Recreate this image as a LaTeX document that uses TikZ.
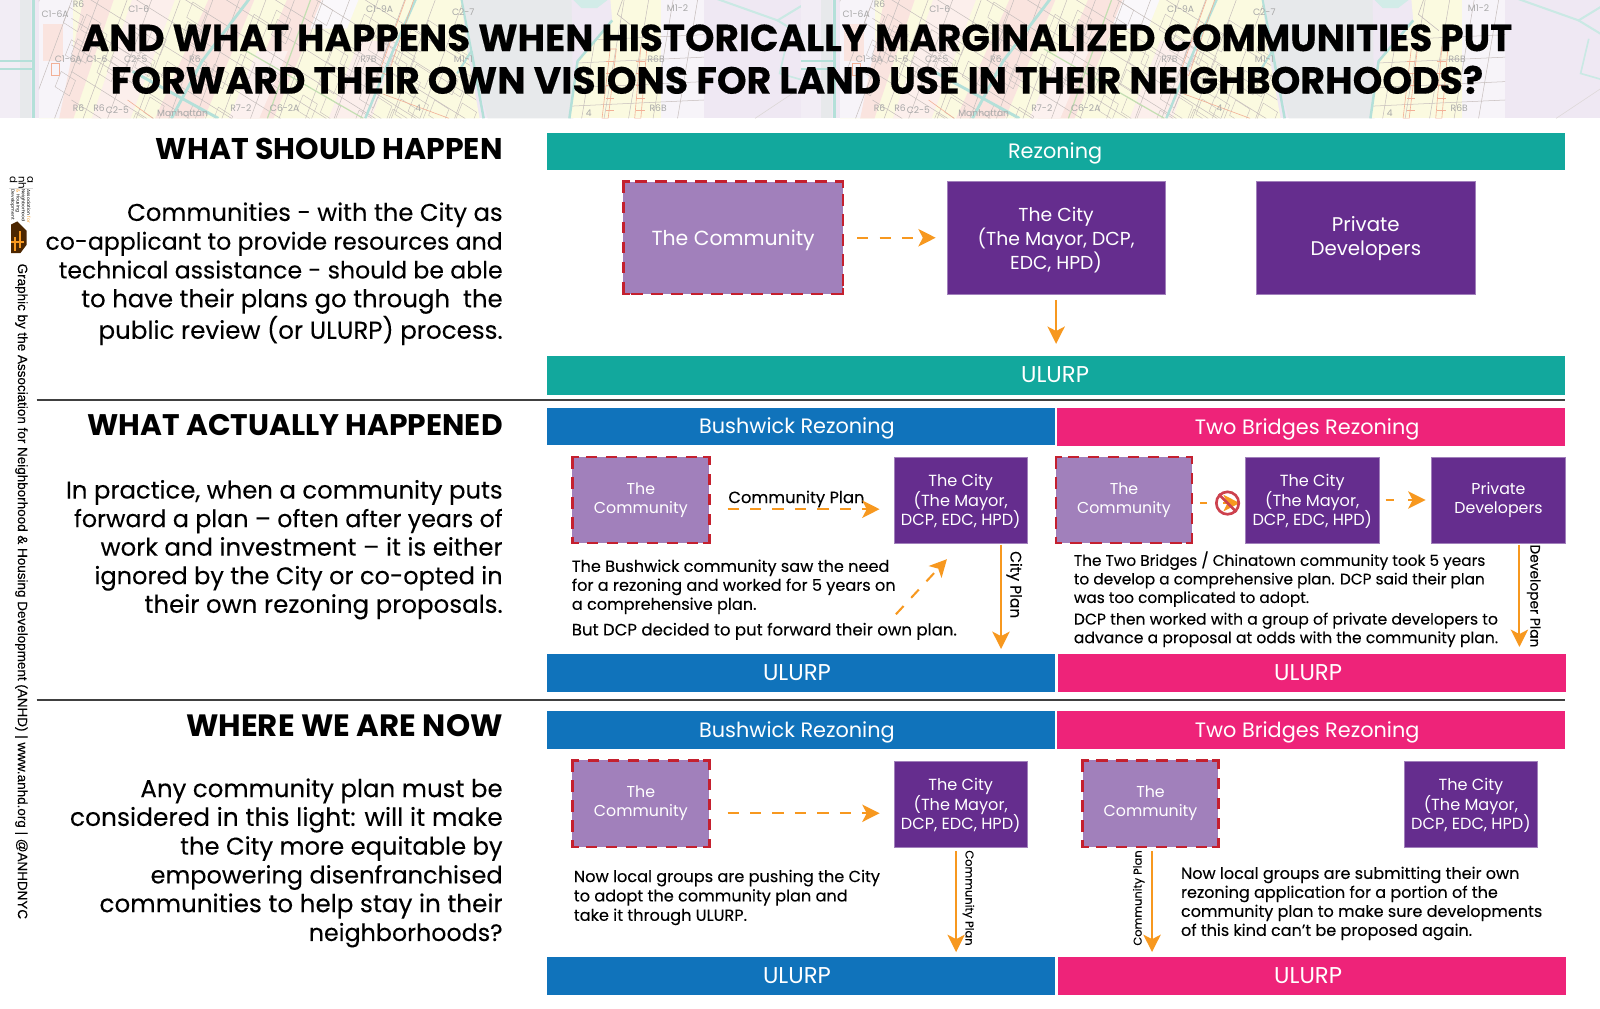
\documentclass[tikz,border=0pt]{standalone}
\usepackage{fontspec}
\usepackage{graphicx}
\setmainfont{Poppins}
\newfontfamily\medf[FakeBold=0.12]{Poppins}
\newfontfamily\titlef[BoldFeatures={FakeBold=0.3}]{Poppins}
\newfontfamily\sidef[FakeBold=0.1]{Liberation Sans}
\usetikzlibrary{arrows.meta,shapes.geometric,calc}
\definecolor{cteal}{HTML}{12A89D}
\definecolor{cblue}{HTML}{1073BB}
\definecolor{cpink}{HTML}{EE2379}
\definecolor{cpurple}{HTML}{652D8E}
\definecolor{clight}{HTML}{A180BB}
\definecolor{cred}{HTML}{C4202F}
\definecolor{corange}{HTML}{F7981F}
\definecolor{myel}{HTML}{FBFAE0}
\definecolor{mpink}{HTML}{FAE4DF}
\definecolor{mlav}{HTML}{EFE8F3}
\definecolor{mgrey}{HTML}{E7E9EB}
\definecolor{mteal}{HTML}{B4E0D9}
\definecolor{mgreen}{HTML}{C4DFB2}
\definecolor{mline}{HTML}{C6BEBC}
\definecolor{morange}{HTML}{F2B096}
\definecolor{mtext}{HTML}{A8A8A8}
% set a line to a width given in picture units
\newdimen\fwdim
\newcommand\fw[2]{\fwdim=#1pt \fwdim=0.5\fwdim \resizebox{\fwdim}{!}{#2}}
\tikzset{
  sz/.style 2 args={minimum width=#1*0.5pt,minimum height=#2*0.5pt,inner sep=0pt,outer sep=0pt},
  bar/.style={text=white,font=\fontsize{10.2}{12}\selectfont,anchor=center,text height=7pt,text depth=0pt},
  ulurpbar/.style={bar,font=\fontsize{11.2}{12}\selectfont},
  bigbox/.style={text=white,align=center,inner sep=0pt,font=\fontsize{9.2}{11.8}\selectfont},
  bigcomm/.style={text=white,align=center,inner sep=0pt,font=\fontsize{10}{11.8}\selectfont},
  bigpriv/.style={text=white,align=center,inner sep=0pt,font=\fontsize{9.7}{11.8}\selectfont},
  smallbox/.style={text=white,align=center,inner sep=0pt,font=\fontsize{7.9}{9.6}\selectfont},
  smallcomm/.style={text=white,align=center,inner sep=0pt,font=\fontsize{7.75}{9.3}\selectfont},
  city/.style={fill=cpurple,draw=clight,line width=.3pt},
  comm/.style={fill=clight},
  redborder/.style={draw=cred,line width=1.3pt,dash pattern=on 5.6pt off 4.2pt},
  redcorner/.style={draw=cred,line width=1.3pt},
  heading/.style={anchor=east,inner sep=0pt,font=\fontsize{14.6}{16}\bfseries\selectfont},
  para/.style={anchor=north east,inner sep=0pt,align=right},
  note/.style={anchor=north west,inner sep=0pt,align=left,font=\fontsize{7.9}{9.3}\medf\selectfont},
  solidarrow/.style={draw=corange,line width=1pt,-{Stealth[length=8.5pt,width=8.5pt,inset=2.2pt]}},
  dasharrow/.style={draw=corange,line width=1pt,dash pattern=on 5.5pt off 5.5pt,-{Stealth[length=8.5pt,width=8.5pt,inset=2.2pt]}},
  rulel/.style={draw=black!75,line width=.5pt},
  mlabel/.style={text=mtext,inner sep=0pt,font=\fontsize{4.5}{5}\selectfont},
}
% community box: name, x, y, w, h, text-dy, text, text style
\newcommand\commbox[8]{%
  \node[comm,sz={#4}{#5}] (#1) at (#2,#3) {};
  \draw[redborder] (#1.north west) rectangle (#1.south east);
  \draw[redcorner] ([yshift=-3pt]#1.north west) -- (#1.north west) -- ([xshift=3pt]#1.north west);
  \draw[redcorner] ([yshift=-3pt]#1.north east) -- (#1.north east) -- ([xshift=-3pt]#1.north east);
  \draw[redcorner] ([yshift=3pt]#1.south west) -- (#1.south west) -- ([xshift=3pt]#1.south west);
  \draw[redcorner] ([yshift=3pt]#1.south east) -- (#1.south east) -- ([xshift=-3pt]#1.south east);
  \node[#8] (#1t) at ($(#2,#3)+(0,#6)$) {#7};
}
% city / developer box
\newcommand\citybox[8]{%
  \node[city,sz={#4}{#5}] (#1) at (#2,#3) {};
  \node[#8] (#1t) at ($(#2,#3)+(0,#6)$) {#7};
}
\newcommand\maptile{%
  \fill[mlav] (0,0) rectangle (785,116);
  \fill[mgrey] (0,0) rectangle (30,116);
  \fill[mlav!80!white] (0,0) rectangle (20,116);
  % Manhattan part
  \begin{scope}
    \clip (38,-2) -- (452,-2) -- (458,50) -- (470,116) -- (38,116) -- cycle;
    \fill[myel] (38,-2) rectangle (480,118);
    \fill[mlav!50!white] (38,-2) -- (72,-2) -- (72,116) -- (38,116) -- cycle;
    \fill[mpink] (42,24) rectangle (62,60);
    \fill[mpink] (82,-2) -- (112,-2) -- (72,116) -- (58,116) -- cycle;
    \fill[mpink] (205,-2) -- (250,-2) -- (200,116) -- (152,116) -- cycle;
    \fill[mpink] (282,-2) -- (318,-2) -- (268,116) -- (232,116) -- cycle;
    \fill[white!70!mlav] (316,-2) -- (352,-2) -- (340,28) -- (304,28) -- cycle;
    \fill[mpink!60!white] (130,-2) -- (172,-2) -- (128,116) -- (90,116) -- cycle;
    \fill[mpink!60!white] (352,40) -- (392,40) -- (364,116) -- (322,116) -- cycle;
    \fill[mpink!50!white] (252,50) -- (282,50) -- (254,116) -- (224,116) -- cycle;
    \foreach \x in {40,72,98,126,150,178,210,236,262,290,318,344,372,398,428,456,490,520}
      \draw[mline,line width=.25pt] (\x,-4) -- (\x-46,120);
    \foreach \c in {-180,-150,-125,-95,-70,-40,-12,18,44,70,98,125,150}
      \draw[mline,line width=.25pt] (70,\c) -- (470,\c+250);
    % irregular block outlines
    \pgfmathsetseed{11}
    \foreach \i in {1,...,60}{
      \pgfmathsetmacro\bx{60+random(0,400)}
      \pgfmathsetmacro\by{random(0,116)}
      \draw[mline,line width=.2pt] (\bx,\by) -- ++(14,9) -- ++(-6,15) -- ++(-14,-9) -- cycle;
    }
    \draw[mteal,line width=1.4pt] (245,-2) -- (198,60) -- (168,116);
    \draw[mteal,line width=1.4pt] (130,70) -- (214,116);
    \draw[mteal,line width=1.2pt] (408,-2) -- (385,50) -- (358,116);
    \draw[mgreen,line width=.6pt] (305,-2) -- (262,116);
    \draw[mgreen,line width=.6pt] (238,48) -- (356,116);
    \draw[morange,line width=.3pt] (398,-2) -- (372,70) -- (380,74) -- (406,-2);
    \draw[morange,line width=.3pt] (125,98) -- (150,116);
    \draw[morange,line width=.3pt] (375,92) -- (440,116);
    \draw[morange,line width=.3pt] (50,62) rectangle (58,74);
  \end{scope}
  % east bank
  \fill[mgrey] (452,-2) -- (560,-2) -- (562,116) -- (478,116) -- (458,50) -- cycle;
  \begin{scope}
    \clip (598,-2) -- (690,-2) -- (690,116) -- (558,116) -- (566,60) -- (600,20) -- cycle;
    \fill[myel] (550,-2) rectangle (690,116);
    \fill[mlav!50!white] (648,-2) rectangle (690,116);
    \foreach \x in {590,612,636,660,684}
      \draw[mline,line width=.25pt] (\x,-2) -- (\x-20,116);
    \foreach \c in {40,62,86,104}
      \draw[mline,line width=.25pt] (560,\c) -- (690,\c-6);
    \draw[morange,line width=.3pt] (598,48) -- (590,116) -- (596,116) -- (604,48) -- cycle;
    \draw[morange,line width=.3pt] (628,46) -- (622,116) -- (628,116) -- (634,46) -- cycle;
    \foreach \y in {60,72,84,96,108}{
      \draw[morange,line width=.25pt] (594,\y) -- (602,\y);
      \draw[morange,line width=.25pt] (623,\y) -- (632,\y);
    }
  \end{scope}
  \fill[mteal!60!white] (560,-2) -- (598,-2) -- (585,8) -- (570,8) -- cycle;
  \draw[mteal,line width=1.2pt] (600,20) -- (566,60) -- (558,116);
  \draw[mline,line width=.3pt] (610,0) -- (605,14) -- (625,30);
  \draw[mteal,line width=1.2pt] (33,-2) -- (33,60) -- (0,60);
  \draw[mteal,line width=1.2pt] (33,60) -- (33,116);
  \draw[mteal,line width=1pt] (0,68) -- (33,68);
  \draw[mteal,line width=1.2pt] (462,50) -- (474,116);
  \draw[mteal,line width=1pt] (452,-2) -- (462,50) -- (448,72);
  \draw[mteal!70!white,line width=1pt] (700,-2) -- (762,20) -- (785,6);
  \draw[mteal!70!white,line width=1pt] (762,20) -- (785,34);
  \draw[mteal!70!white,line width=.8pt] (772,38) -- (764,72) -- (785,78);
  \draw[mline!60!white,line width=.3pt] (740,116) -- (785,86);
  \foreach \t/\x/\y in {R6/77/4,C1-6/136/9,C1-6A/54/14,C1-6A/67/58,C1-6/95/58,C2-5/133/58,R6/191/58,R7B/361/58,C1-9A/372/9,C2-7/454/12,M1-1/454/58,R6/77/106,R6/97/106,C2-5/115/108,R7-2/236/106,C6-2A/279/106,Manhattan/179/111,4/410/106,M1-2/664/8,R6B/643/58,R6B/645/106,4/577/111}
    \node[mlabel] at (\x,\y) {\t};
}
\begin{document}
\begin{tikzpicture}[x=0.5pt,y=-0.5pt]
\useasboundingbox (0,0) rectangle (1568,988);
\fill[white] (0,0) rectangle (1568,988);
% header map
\begin{scope}
  \clip (0,0) rectangle (1568,116);
  \maptile
  \begin{scope}[shift={(785,0)}]\maptile\end{scope}
\end{scope}
\node[anchor=center,inner sep=0pt,align=center,font=\fontsize{18.36}{20.9}\titlef\bfseries\selectfont] (title) at (781,58)
  {\fw{1402}{AND WHAT HAPPENS WHEN HISTORICALLY MARGINALIZED COMMUNITIES PUT}\\\fw{1345}{FORWARD THEIR OWN VISIONS FOR LAND USE IN THEIR NEIGHBORHOODS?}};

% logo
\node[rotate=-90,inner sep=0pt,align=left,font=\fontsize{5}{4.3}\selectfont] (logoA) at (21,179) {a\\nh\\d};
\draw[black!15,line width=.4pt] (9,185) -- (32,185);
\node[rotate=-90,inner sep=0pt,align=left,font=\fontsize{2.2}{2.6}\selectfont] (logoB) at (20,202) {Association \textcolor{corange}{for}\\Neighborhood\\\textcolor{corange}{\&} Housing\\Development};
\fill[black!70!orange] (11,248) -- (11,220) -- (17,217) -- (26,226) -- (26,240) -- (20,248) -- cycle;
\fill[corange] (14,232) rectangle (16,246);
\fill[corange] (19,226) rectangle (21,243);
\fill[corange] (11,236) rectangle (24,238);
% side text
\node[rotate=-90,anchor=west,inner sep=0pt,font=\fontsize{6.6}{8}\sidef\selectfont] (side) at (21,258)
  {Graphic by the Association for Neighborhood \& Housing Development (ANHD) | www.anhd.org | @ANHDNYC};
% rules
\coordinate (r1a) at (36,392); \coordinate (r1b) at (1534,392);
\coordinate (r2a) at (36,686); \coordinate (r2b) at (1534,686);
\draw[rulel] (r1a) -- (r1b);
\draw[rulel] (r2a) -- (r2b);

% left column
\node[heading] (h1) at (493,146) {\fw{340}{WHAT SHOULD HAPPEN}};
\node[para,font=\fontsize{12}{14.1}\medf\selectfont] (p1) at (493,198) {\fw{368}{Communities - with the City as}\\\fw{448}{co-applicant to provide resources and}\\\fw{435}{technical assistance - should be able}\\\fw{413}{to have their plans go through\ \ the}\\\fw{396}{public review (or ULURP) process.}};
\node[heading] (h2) at (493,417) {\fw{407}{WHAT ACTUALLY HAPPENED}};
\node[para,font=\fontsize{12}{14}\medf\selectfont] (p2) at (493,470) {\fw{428}{In practice, when a community puts}\\\fw{420}{forward a plan – often after years of}\\\fw{394}{work and investment – it is either}\\\fw{400}{ignored by the City or co-opted in}\\\fw{351}{their own rezoning proposals.}};
\node[heading] (h3) at (493,711) {\fw{310}{WHERE WE ARE NOW}};
\node[para,font=\fontsize{12}{14.1}\medf\selectfont] (p3) at (493,762.5) {\fw{355}{Any community plan must be}\\\fw{424}{considered in this light: will it make}\\\fw{316}{the City more equitable by}\\\fw{345}{empowering disenfranchised}\\\fw{395}{communities to help stay in their}\\\fw{190}{neighborhoods?}};

% section 1
\node[bar,fill=cteal,sz={998}{37}] (rez) at (1035,148.5) {\hspace*{-1pt}Rezoning};
\node[ulurpbar,fill=cteal,sz={998}{38}] (ulurpA) at (1035,368) {\hspace*{-1pt}ULURP};
\commbox{commA}{718.5}{233}{215}{110}{3}{The Community}{bigcomm}
\citybox{cityA}{1035}{233}{214}{110}{2}{The City\\(The Mayor, DCP,\\EDC, HPD)}{bigbox}
\citybox{privA}{1338.5}{233}{215}{110}{1}{Private\\Developers}{bigpriv}
\draw[dasharrow,shorten <=7pt,shorten >=5.5pt] (commA.east) -- (cityA.west);
\draw[solidarrow,shorten <=3pt,shorten >=6pt] (cityA.south) -- (cityA.south |- ulurpA.north);

% section 2
\node[bar,fill=cblue,sz={498}{36}] (bushB) at (785,418) {\hspace*{-4pt}Bushwick Rezoning};
\node[bar,fill=cpink,sz={498}{37}] (twoB) at (1285,418.5) {\hspace*{-4pt}Two Bridges Rezoning};
\node[ulurpbar,fill=cblue,sz={498}{37}] (ulurpB1) at (785,659.5) {\hspace*{-4pt}ULURP};
\node[ulurpbar,fill=cpink,sz={498}{37}] (ulurpB2) at (1286,659.5) {\hspace*{-4pt}ULURP};
\commbox{commB1}{628}{490}{134}{84}{0}{The\\Community}{smallcomm}
\citybox{cityB1}{941.5}{490}{131}{84}{1.5}{The City\\(The Mayor,\\DCP, EDC, HPD)}{smallbox}
\node[inner sep=0pt,font=\fontsize{8}{10}\medf\selectfont] (cpB) at (780.5,489) {Community Plan};
\draw[dasharrow,shorten <=9pt,shorten >=7pt] (commB1.east |- 0,499) -- (cityB1.west |- 0,499);
\coordinate (diagS) at (878,602); \coordinate (diagE) at (928,548);
\draw[dasharrow] (diagS) -- (diagE);
\draw[solidarrow,shorten <=1pt,shorten >=2.5pt] (981,532) -- (981 ,641);
\node[rotate=-90,inner sep=0pt,font=\fontsize{7.55}{9}\medf\selectfont] (cityplan) at (994,573) {City Plan};
\node[note] (nB1) at (560,548) {The Bushwick community saw the need\\for a rezoning and worked for 5 years on\\a comprehensive plan.};
\node[note,font=\fontsize{8.1}{9.3}\medf\selectfont] (nB2) at (560,610) {But DCP decided to put forward their own plan.};
\commbox{commB2}{1101.5}{490}{133}{84}{0}{The\\Community}{smallcomm}
\citybox{cityB2}{1286}{490}{132}{84}{1.5}{The City\\(The Mayor,\\DCP, EDC, HPD)}{smallbox}
\citybox{privB}{1468.5}{490}{131}{84}{0}{Private\\Developers}{smallcomm}
\coordinate (nosignC) at (1203,493);
\draw[corange,line width=1pt,dash pattern=on 3.5pt off 8pt,-{Stealth[length=8pt,width=8pt,inset=2pt]},shorten <=4pt,shorten >=-6pt] (commB2.east |- nosignC) -- (nosignC);
\node[circle,draw=cred!85!white,line width=1.3pt,minimum size=11pt,inner sep=0pt] (nosign) at (nosignC) {};
\draw[cred!85!white,line width=1.3pt] (nosign.135) -- (nosign.-45);
\draw[corange,line width=1pt,dash pattern=on 4pt off 7pt,-{Stealth[length=8.5pt,width=8.5pt,inset=2.2pt]},shorten <=3pt,shorten >=3pt] (cityB2.east) -- (privB.west);
\node[note,font=\fontsize{7.5}{9.1}\medf\selectfont] (nB3) at (1052,540) {The Two Bridges / Chinatown community took 5 years\\to develop a comprehensive plan. DCP said their plan\\was too complicated to adopt.};
\node[note,font=\fontsize{7.65}{9.1}\medf\selectfont] (nB4) at (1052,600) {DCP then worked with a group of private developers to\\advance a proposal at odds with the community plan.};
\draw[solidarrow,shorten <=1pt,shorten >=3.5pt] (1489,532) -- (1489,641);
\node[rotate=-90,inner sep=0pt,font=\fontsize{6.75}{9}\medf\selectfont] (devplan) at (1503,584) {Developer Plan};

% section 3
\node[bar,fill=cblue,sz={498}{37}] (bushC) at (785,715.5) {\hspace*{-4pt}Bushwick Rezoning};
\node[bar,fill=cpink,sz={498}{37}] (twoC) at (1285,715.5) {\hspace*{-4pt}Two Bridges Rezoning};
\node[ulurpbar,fill=cblue,sz={498}{37}] (ulurpC1) at (785,956.5) {\hspace*{-4pt}ULURP};
\node[ulurpbar,fill=cpink,sz={498}{37}] (ulurpC2) at (1286,956.5) {\hspace*{-4pt}ULURP};
\commbox{commC1}{628}{787.5}{134}{85}{0}{The\\Community}{smallcomm}
\citybox{cityC1}{941.5}{788}{131}{84}{1.5}{The City\\(The Mayor,\\DCP, EDC, HPD)}{smallbox}
\draw[dasharrow,shorten <=9pt,shorten >=7pt] (commC1.east |- 0,797) -- (cityC1.west |- 0,797);
\draw[solidarrow,shorten <=2pt,shorten >=2.5pt] (937,830) -- (937,938);
\node[rotate=-90,inner sep=0pt,font=\fontsize{5.6}{7}\medf\selectfont] (cpC1) at (949,880) {Community Plan};
\node[note,font=\fontsize{7.9}{9.5}\medf\selectfont] (nC1) at (562,852) {Now local groups are pushing the City\\to adopt the community plan and\\take it through ULURP.};
\commbox{commC2}{1127.5}{787.5}{133}{85}{0}{The\\Community}{smallcomm}
\citybox{cityC2}{1441.5}{788}{131}{84}{1.5}{The City\\(The Mayor,\\DCP, EDC, HPD)}{smallbox}
\draw[solidarrow,shorten <=2pt,shorten >=2.5pt] (1129,830) -- (1129,938);
\node[rotate=90,inner sep=0pt,font=\fontsize{5.6}{7}\medf\selectfont] (cpC2) at (1116,880) {Community Plan};
\node[note,font=\fontsize{7.85}{9.3}\medf\selectfont] (nC2) at (1157,849) {Now local groups are submitting their own\\rezoning application for a portion of the\\community plan to make sure developments\\of this kind can’t be proposed again.};
\end{tikzpicture}
\end{document}
